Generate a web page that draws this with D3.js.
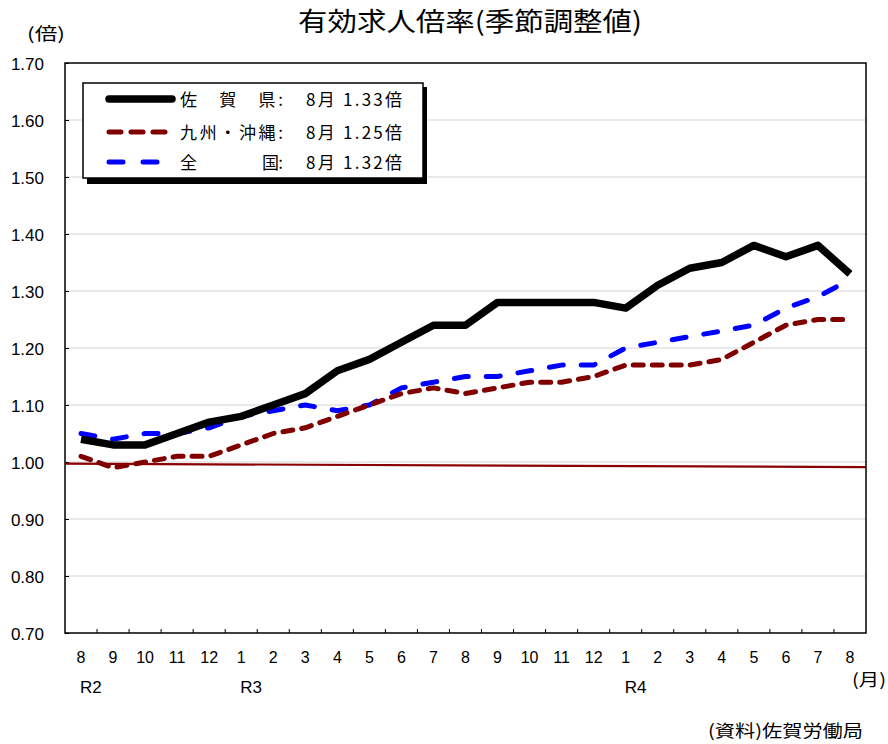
<!DOCTYPE html>
<html>
<head>
<meta charset="utf-8">
<script src="https://cdn.jsdelivr.net/npm/d3@7"></script>
<style>
  body { margin: 0; background: #fff; }
  svg text { font-family: "Liberation Sans Narrow", "Liberation Sans", Arial, sans-serif; }
  svg .jp { font-family: "Noto Sans CJK JP", sans-serif; }
</style>
</head>
<body>
<div id="chart"></div>
<script>
const W = 888, H = 744;

// data
const months = ["8","9","10","11","12","1","2","3","4","5","6","7","8","9","10","11","12","1","2","3","4","5","6","7","8"];
const eras = [{i: 0, label: "R2"}, {i: 5, label: "R3"}, {i: 17, label: "R4"}];
const saga   = [1.04,1.03,1.03,1.05,1.07,1.08,1.10,1.12,1.16,1.18,1.21,1.24,1.24,1.28,1.28,1.28,1.28,1.27,1.31,1.34,1.35,1.38,1.36,1.38,1.33];
const kyushu = [1.01,0.99,1.00,1.01,1.01,1.03,1.05,1.06,1.08,1.10,1.12,1.13,1.12,1.13,1.14,1.14,1.15,1.17,1.17,1.17,1.18,1.21,1.24,1.25,1.25];
const zenkoku= [1.05,1.04,1.05,1.05,1.06,1.08,1.09,1.10,1.09,1.10,1.13,1.14,1.15,1.15,1.16,1.17,1.17,1.20,1.21,1.22,1.23,1.24,1.27,1.29,1.32];
const refLine = [0.997, 0.991];
const yTicks = [0.70,0.80,0.90,1.00,1.10,1.20,1.30,1.40,1.50,1.60,1.70];
const legendNames = ["佐　賀　県:", "九州・沖縄:", "全　　　　国:"];
const legendValues = ["8月 1.33倍", "8月 1.25倍", "8月 1.32倍"];

const series = [
  {values: saga,    color: "#000000", width: 7.5, dash: null},
  {values: kyushu,  color: "#800000", width: 5, dash: "10,9"},
  {values: zenkoku, color: "#0000ff", width: 5, dash: "14,18"}
];

const m = {left: 65, right: 866, top: 63, bottom: 633};

const svg = d3.select("#chart").append("svg")
  .attr("width", W).attr("height", H)
  .attr("viewBox", "0 0 " + W + " " + H);

const x = d3.scaleBand().domain(d3.range(months.length)).range([m.left, m.right]);
const cx = i => x(i) + x.bandwidth() / 2;
const y = d3.scaleLinear().domain([0.70, 1.70]).range([m.bottom, m.top]);

// title
svg.append("text").attr("class", "jp")
  .attr("x", 298).attr("y", 31)
  .attr("textLength", 344).attr("lengthAdjust", "spacingAndGlyphs")
  .style("font-size", "26px").text("有効求人倍率(季節調整値)");

svg.append("text").attr("class", "jp")
  .attr("x", 27).attr("y", 40)
  .attr("textLength", 38).attr("lengthAdjust", "spacingAndGlyphs")
  .style("font-size", "17px").text("(倍)");

// grid
svg.append("g").selectAll("line").data(yTicks.slice(1, -1)).enter().append("line")
  .attr("x1", m.left).attr("x2", m.right)
  .attr("y1", d => y(d)).attr("y2", d => y(d))
  .style("stroke", "#d4d4d4").style("stroke-width", 1.2);

// y axis
const yAxis = d3.axisLeft(y).tickValues(yTicks).tickFormat(d3.format(".2f")).tickSize(4).tickPadding(17);
const gy = svg.append("g").attr("transform", "translate(" + m.left + ",0)").call(yAxis);
gy.select(".domain").remove();
gy.selectAll("line").attr("x2", 4).style("stroke", "#000");
gy.selectAll("text").attr("dy", "0.4em").style("font-size", "17px").style("fill", "#000");

// x axis ticks (boundaries, pointing up)
svg.append("g").selectAll("line").data(d3.range(1, months.length)).enter().append("line")
  .attr("x1", d => x(d)).attr("x2", d => x(d))
  .attr("y1", m.bottom).attr("y2", m.bottom - 4)
  .style("stroke", "#000").style("stroke-width", 1);

svg.append("g").selectAll("text").data(months).enter().append("text")
  .attr("x", (d, i) => cx(i)).attr("y", 663).attr("text-anchor", "middle")
  .style("font-size", "16px").text(d => d);

svg.append("g").selectAll("text").data(eras).enter().append("text")
  .attr("x", d => cx(d.i) - 1).attr("y", 693)
  .style("font-size", "17px").text(d => d.label);

svg.append("text").attr("class", "jp")
  .attr("x", 852).attr("y", 686)
  .attr("textLength", 34).attr("lengthAdjust", "spacingAndGlyphs")
  .style("font-size", "17px").text("(月)");

svg.append("text").attr("class", "jp")
  .attr("x", 708).attr("y", 737)
  .attr("textLength", 155).attr("lengthAdjust", "spacingAndGlyphs")
  .style("font-size", "17px").text("(資料)佐賀労働局");

// frame
svg.append("rect")
  .attr("x", m.left).attr("y", m.top)
  .attr("width", m.right - m.left).attr("height", m.bottom - m.top)
  .style("fill", "none").style("stroke", "#000").style("stroke-width", 1.5);

// reference line near 1.00
svg.append("line")
  .attr("x1", m.left).attr("x2", m.right)
  .attr("y1", y(refLine[0])).attr("y2", y(refLine[1]))
  .style("stroke", "#8b0000").style("stroke-width", 2.2);

// series
const line = d3.line().x((d, i) => cx(i)).y(d => y(d));
svg.append("g").selectAll("path").data(series.slice().reverse()).enter().append("path")
  .attr("d", d => line(d.values))
  .style("fill", "none")
  .style("stroke", d => d.color)
  .style("stroke-width", d => d.width)
  .style("stroke-dasharray", d => d.dash)
  .style("stroke-linecap", d => d.dash ? "round" : "butt")
  .style("stroke-linejoin", "round");

// legend
const lg = svg.append("g");
lg.append("rect").attr("x", 87).attr("y", 87).attr("width", 340).attr("height", 97).style("fill", "#000");
lg.append("rect").attr("x", 83).attr("y", 83).attr("width", 340).attr("height", 95)
  .style("fill", "#fff").style("stroke", "#000").style("stroke-width", 1.5);

const rowY = [99, 132, 162];
const rows = lg.selectAll("g.row").data(series).enter().append("g").attr("class", "row");
rows.append("line")
  .attr("x1", 109).attr("x2", (d, i) => i === 2 ? 160 : 172)
  .attr("y1", (d, i) => rowY[i]).attr("y2", (d, i) => rowY[i])
  .style("stroke", d => d.color)
  .style("stroke-width", d => d.width)
  .style("stroke-dasharray", (d, i) => i === 1 ? "12,10" : i === 2 ? "14,20" : null)
  .style("stroke-linecap", "round");
rows.append("text").attr("class", "jp")
  .attr("x", 180).attr("y", (d, i) => rowY[i] + 7)
  .attr("textLength", 103).attr("lengthAdjust", "spacing")
  .style("font-size", "17px").text((d, i) => legendNames[i]);
rows.append("text").attr("class", "jp")
  .attr("x", 306).attr("y", (d, i) => rowY[i] + 7)
  .attr("textLength", 96).attr("lengthAdjust", "spacing")
  .style("font-size", "17px").text((d, i) => legendValues[i]);
</script>
</body>
</html>
